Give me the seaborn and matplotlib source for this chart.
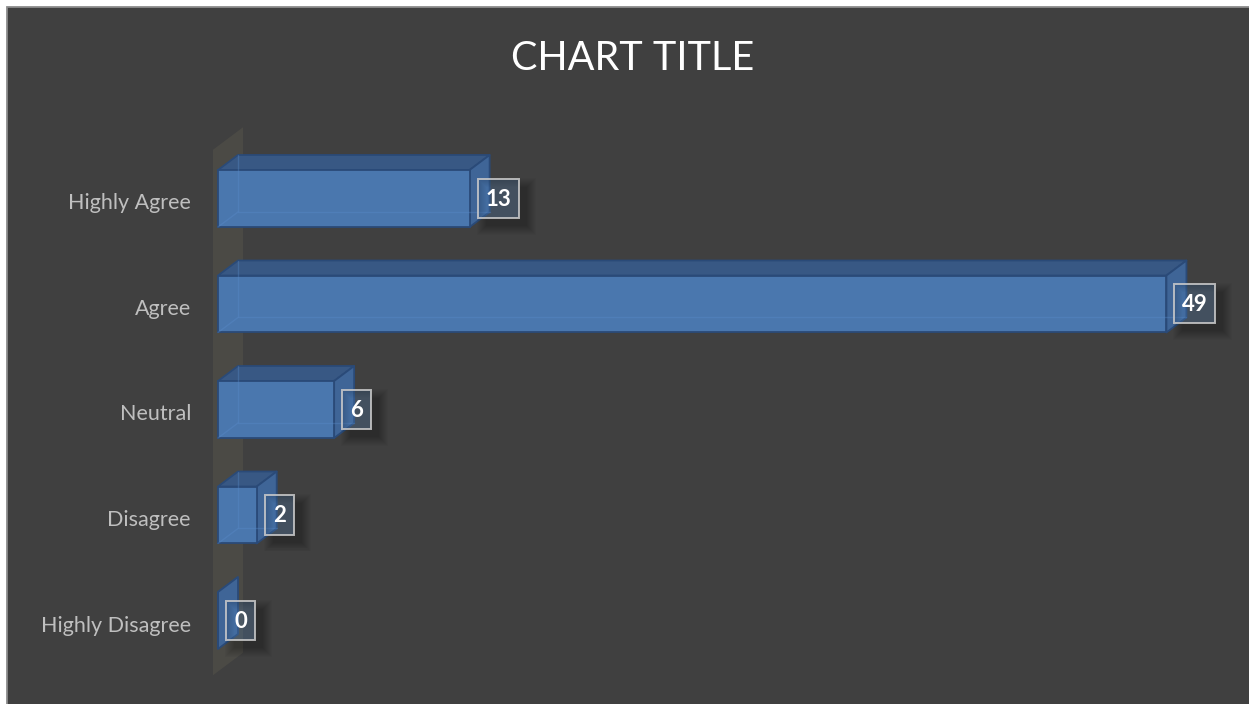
import matplotlib
matplotlib.use("Agg")
import matplotlib.pyplot as plt
import matplotlib.transforms as mtransforms
import seaborn as sns
import pandas as pd
from matplotlib.patches import Polygon, Rectangle, PathPatch
from matplotlib.path import Path

# Survey responses
categories = ["Highly Agree", "Agree", "Neutral", "Disagree", "Highly Disagree"]
counts = [13, 49, 6, 2, 0]

W, H, DPI = 1249, 704, 100
BG = "#404040"
FRONT = "#4A77AE"
TOP = "#385884"
SIDE = "#3F6597"
EDGE = "#2A4A78"
WALL = "#4B4A45"

sns.set_theme(style="dark")
plt.rcParams["font.family"] = ["Lato", "DejaVu Sans"]

fig = plt.figure(figsize=(W / DPI, H / DPI), dpi=DPI, facecolor="white")
# dark chart panel with a thin grey border
fig.patches.append(Rectangle((7 / W, -0.02), 1.0, 1.02 - 7 / H, transform=fig.transFigure,
                             facecolor=BG, edgecolor="#8C8C8C", lw=1.3, zorder=-10))

ax_left, ax_top, ax_w, ax_h = 218, 93, 1022, 580.25
ax = fig.add_axes([ax_left / W, (H - ax_top - ax_h) / H, ax_w / W, ax_h / H])
ax.set_facecolor("none")
ax.set_zorder(5)

df = pd.DataFrame({"response": categories, "count": counts})
sns.barplot(data=df, y="response", x="count", orient="h", width=0.54, color=FRONT,
            saturation=1, edgecolor=EDGE, linewidth=1.3, ax=ax, zorder=4)

XMAX = 52.8
ax.set_xlim(0, XMAX)
ax.set_ylim(len(categories) - 0.5, -1.0)

# pixel -> data scale factors
sx = ax_w / XMAX
sy = ax_h / (len(categories) - 0.5 + 1.0)
DX, DY = 20, 15           # bar depth in pixels (right, up)
dx, dy = DX / sx, DY / sy

# back wall behind the bars
wx0 = -5 / sx
wdx, wdy = 30 / sx, 22.5 / sy
wy0, wy1 = -0.5 + 4 / sy, len(categories) - 0.5 + 2 / sy
ax.add_patch(Polygon([(wx0, wy0), (wx0 + wdx, wy0 - wdy), (wx0 + wdx, wy1 - wdy), (wx0, wy1)],
                     closed=True, facecolor=WALL, edgecolor="none", zorder=1, clip_on=False))


def rect_ring(x0, y0, x1, y1, hx0, hy0, hx1, hy1):
    """Rectangle (x0..x1, y0..y1) with a rectangular hole cut out."""
    verts = [(x0, y0), (x1, y0), (x1, y1), (x0, y1), (x0, y0),
             (hx0, hy0), (hx0, hy1), (hx1, hy1), (hx1, hy0), (hx0, hy0)]
    codes = [Path.MOVETO, Path.LINETO, Path.LINETO, Path.LINETO, Path.CLOSEPOLY] * 2
    return Path(verts, codes)


for p, val in zip(ax.patches[:len(counts)], counts):
    x0, y0, w, h = p.get_x(), p.get_y(), p.get_width(), p.get_height()
    p.set_clip_on(False)
    top = [(x0, y0), (x0 + w, y0), (x0 + w + dx, y0 - dy), (x0 + dx, y0 - dy)]
    side = [(x0 + w, y0), (x0 + w + dx, y0 - dy), (x0 + w + dx, y0 + h - dy), (x0 + w, y0 + h)]
    ax.add_patch(Polygon(top, closed=True, facecolor=TOP, edgecolor=EDGE, lw=1.3,
                         joinstyle="round", zorder=3, clip_on=False))
    ax.add_patch(Polygon(side, closed=True, facecolor=SIDE, edgecolor=EDGE, lw=1.3,
                         joinstyle="round", zorder=3, clip_on=False))
    # faint hidden edges seen through the front face
    if w > 0:
        ax.plot([x0 + dx, x0 + dx, x0 + w + dx], [y0 - dy, y0 + h - dy, y0 + h - dy],
                color="#5A8CCB", lw=1.0, alpha=0.35, zorder=5, clip_on=False)
        ax.plot([x0, x0 + dx], [y0 + h, y0 + h - dy], color="#5A8CCB", lw=1.0,
                alpha=0.35, zorder=5, clip_on=False)

    # value label box with a soft shadow around it
    txt = f"{val:g}"
    bw, bh = 17 + 12 * len(txt), 39
    bx = x0 + w + 8 / sx
    cy = y0 + h / 2
    bx1 = bx + bw / sx
    by0, by1 = cy - bh / 2 / sy, cy + bh / 2 / sy
    for k in range(10):
        grow = 2 * k
        sx0 = bx + (8 - grow / 2) / sx
        sx1 = sx0 + (bw + grow) / sx
        sy0 = cy - (bh + grow) / 2 / sy + 8 / sy
        sy1 = sy0 + (bh + grow) / sy
        ax.add_patch(PathPatch(rect_ring(sx0, sy0, sx1, sy1, bx, by0, bx1, by1),
                               facecolor="black", edgecolor="none", alpha=0.028,
                               zorder=6, clip_on=False))
    ax.add_patch(Rectangle((bx, by0), bw / sx, bh / sy, facecolor=(0.31, 0.51, 0.74, 0.25),
                           edgecolor=(0.8, 0.8, 0.8, 0.85), lw=1.4, zorder=7, clip_on=False))
    ax.text(bx + bw / 2 / sx, cy + 1 / sy, txt, ha="center", va="center", color="white",
            fontsize=16, fontweight="bold", zorder=8, clip_on=False)

ax.tick_params(axis="y", length=0, pad=19.5, labelcolor="#BFBFBF", labelsize=15.5)
ax.tick_params(axis="x", length=0, labelbottom=False)
shift = mtransforms.ScaledTranslation(0, -3 / DPI, fig.dpi_scale_trans)
for lab in ax.get_yticklabels():
    lab.set_transform(lab.get_transform() + shift)
ax.set_xlabel("")
ax.set_ylabel("")
ax.grid(False)
for s in ax.spines.values():
    s.set_visible(False)

fig.text(633 / W, 1 - 58 / H, "CHART TITLE", ha="center", va="center", color="white", fontsize=28.5)

fig.savefig("out.png", dpi=DPI, facecolor="white")
